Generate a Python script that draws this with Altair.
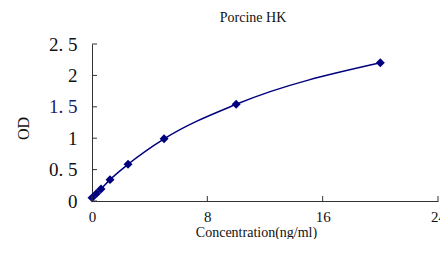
import altair as alt
import pandas as pd

conc = [0, 0.312, 0.625, 1.25, 2.5, 5, 10, 20]
od = [0.05, 0.12, 0.19, 0.34, 0.585, 0.99, 1.54, 2.2]
x_ticks = [0, 8, 16, 24]
y_ticks = [0, 0.5, 1, 1.5, 2, 2.5]

df = pd.DataFrame({"conc": conc, "od": od})
W, H = 346, 157
FONT = "Liberation Serif"
NAVY = "#00007f"

xs = alt.Scale(domain=[0, 24], nice=False)
ys = alt.Scale(domain=[0, 2.5], nice=False)

X_AX = alt.Axis(
    values=x_ticks, ticks=False, tickSize=0, grid=False, domainColor="#333",
    labelFont=FONT, labelFontSize=15, labelColor="#111", labelPadding=8,
    labelOverlap=False, labelFlush=False,
    title="Concentration(ng/ml)", titleFont=FONT, titleFontSize=14,
    titleFontWeight="normal", titleColor="#111",
    titleX=164, titleY=35, titleBaseline="alphabetic", titleAlign="center")
Y_AX = alt.Axis(
    values=y_ticks, ticks=False, tickSize=0, grid=False, domainColor="#333",
    labelFont=FONT, labelFontSize=19, labelPadding=15,
    labelOverlap=False, labelFlush=False,
    labelExpr="replace(format(datum.value, '~g'), '.', '. ')",
    labelColor={"condition": {"test": "datum.value == 1.5", "value": "#1a1a70"}, "value": "#111"},
    title="OD", titleFont=FONT, titleFontSize=16, titleFontWeight="normal",
    titleColor="#111", titleX=-69, titleY=84, titleAngle=270,
    titleBaseline="middle", titleAlign="center")

base = alt.Chart(df)

line = base.mark_line(color=NAVY, strokeWidth=1.5, interpolate="monotone").encode(
    x=alt.X("conc:Q", scale=xs, axis=X_AX),
    y=alt.Y("od:Q", scale=ys, axis=Y_AX),
)
pts = base.mark_point(shape="diamond", filled=True, color=NAVY, size=80, opacity=1).encode(
    x=alt.X("conc:Q", scale=xs, axis=X_AX), y=alt.Y("od:Q", scale=ys, axis=Y_AX))

xt = alt.Chart(pd.DataFrame({"t": x_ticks})).mark_rule(color="#333").encode(
    x=alt.X("t:Q", scale=xs, axis=X_AX), y=alt.value(H), y2=alt.value(H - 5))
yt = alt.Chart(pd.DataFrame({"t": y_ticks})).mark_rule(color="#333").encode(
    y=alt.Y("t:Q", scale=ys, axis=Y_AX), x=alt.value(0), x2=alt.value(5))

chart = alt.layer(line, pts, xt, yt).properties(
    width=W, height=H,
    title=alt.TitleParams("Porcine HK", font=FONT, fontSize=14, fontWeight="normal",
                          color="#111", anchor="middle", dx=-12, offset=10),
    autosize=alt.AutoSizeParams(type="none"),
    padding={"left": 84, "top": 36, "right": 2, "bottom": 38},
).configure_view(stroke=None)

chart.save("out.html", embed_options={"renderer": "svg", "actions": False})
